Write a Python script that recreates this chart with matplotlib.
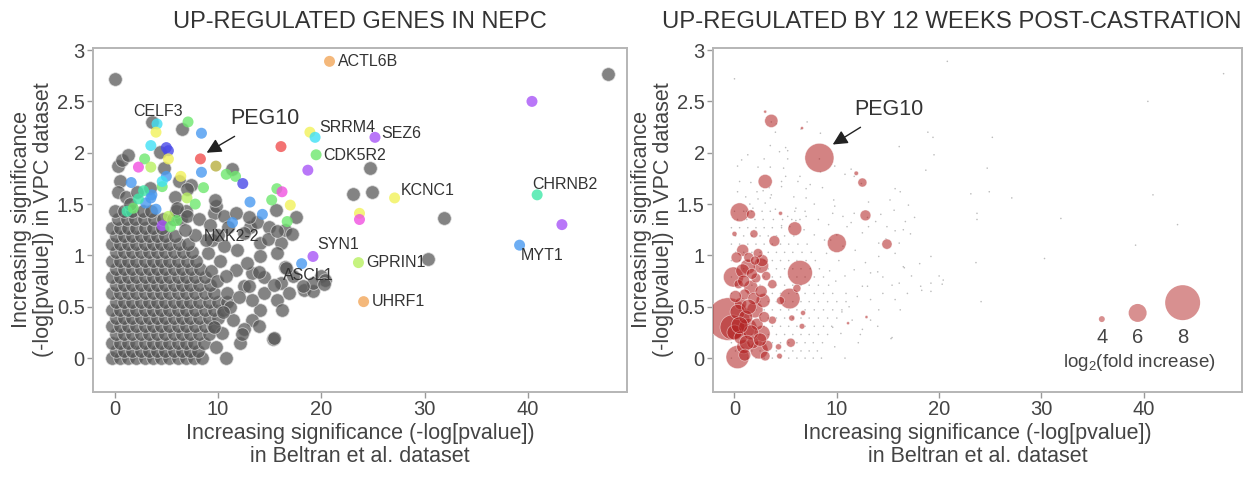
import numpy as np
import matplotlib
matplotlib.use("Agg")
import matplotlib.pyplot as plt
from matplotlib import font_manager

names = {f.name for f in font_manager.fontManager.ttflist}
FONT = 'Liberation Sans Narrow' if 'Liberation Sans Narrow' in names else 'Liberation Sans'
plt.rcParams['font.family'] = [FONT, 'DejaVu Sans']
plt.rcParams['mathtext.fontset'] = 'custom'
plt.rcParams['mathtext.rm'] = FONT
plt.rcParams['mathtext.it'] = FONT

# ---------------- data ----------------
# dense grey cloud, row by row (y value, then x values of that row)
gray_rows_y = [0.00, 0.07, 0.15, 0.23, 0.31, 0.39, 0.47, 0.55, 0.63, 0.71,
               0.79, 0.87, 0.95, 1.03, 1.11, 1.19, 1.27, 1.35, 1.43]
gray_rows_x = [
    [-0.3, 0.5, 1.3, 2.1, 2.9, 3.7, 4.5, 5.3, 6.1, 6.9, 7.7, 8.5],
    [0.1, 0.9, 1.7, 2.5, 3.3, 4.1, 4.9, 5.7, 6.5, 7.3, 8.1],
    [-0.3, 0.5, 1.3, 2.1, 2.9, 3.7, 4.5, 5.3, 6.1, 6.9, 7.7, 8.6],
    [0.1, 0.9, 1.7, 2.5, 3.3, 4.1, 4.9, 5.7, 6.5, 7.3, 8.2, 9.1],
    [-0.3, 0.5, 1.3, 2.1, 2.9, 3.7, 4.5, 5.3, 6.1, 6.9, 7.8, 8.7, 9.5],
    [0.1, 0.9, 1.7, 2.5, 3.3, 4.1, 4.9, 5.7, 6.5, 7.3, 8.2, 9.1, 10.0],
    [-0.3, 0.5, 1.3, 2.1, 2.9, 3.7, 4.5, 5.3, 6.1, 6.9, 7.8, 8.7, 9.6, 10.5],
    [0.1, 0.9, 1.7, 2.5, 3.3, 4.1, 4.9, 5.7, 6.5, 7.3, 8.2, 9.1, 10.0, 10.9],
    [-0.3, 0.5, 1.3, 2.1, 2.9, 3.7, 4.5, 5.3, 6.1, 6.9, 7.8, 8.7, 9.6],
    [0.1, 0.9, 1.7, 2.5, 3.3, 4.1, 4.9, 5.7, 6.5, 7.3, 8.2, 9.2],
    [-0.3, 0.5, 1.3, 2.1, 2.9, 3.7, 4.5, 5.3, 6.1, 6.9, 7.8, 8.7],
    [0.1, 0.9, 1.7, 2.5, 3.3, 4.1, 4.9, 5.7, 6.5, 7.4, 8.3],
    [-0.3, 0.5, 1.3, 2.1, 2.9, 3.7, 4.5, 5.3, 6.1, 7.0, 7.9],
    [0.1, 0.9, 1.7, 2.5, 3.3, 4.1, 4.9, 5.7, 6.6, 7.5],
    [-0.3, 0.5, 1.3, 2.1, 2.9, 3.7, 4.5, 5.3, 6.2, 7.1],
    [0.1, 0.9, 1.7, 2.5, 3.3, 4.1, 4.9, 5.8],
    [-0.3, 0.5, 1.3, 2.1, 2.9, 3.7, 4.6],
    [0.3, 1.2, 2.0, 2.8, 3.8, 4.7, 5.6, 6.4],
    [0.0, 0.9, 1.7, 2.7, 3.5, 5.9, 6.9],
]
# scattered grey genes
gray_x = [0.0, 47.8, 24.7, 23.1, 24.9, 31.9, 30.3,
          0.3, 0.7, 1.3, 0.5, 0.3, 1.1, 1.5, 2.2, 3.4,
          4.8, 4.4, 3.6, 6.5, 6.2, 7.4, 5.8, 6.0, 7.0,
          7.0, 8.2, 9.6, 9.8, 9.7, 10.6, 11.0, 11.7, 11.4,
          13.1, 13.8, 14.9, 15.6, 16.5, 17.6, 17.2, 16.1,
          9.4, 10.6, 12.5, 14.1, 14.1, 15.7, 16.5, 17.3, 16.1,
          18.3, 19.2, 20.0, 20.4, 19.2, 16.9, 15.7, 15.3, 14.1,
          13.3, 12.5, 12.1, 10.8, 14.5, 13.3, 12.5, 11.7, 10.9,
          11.5, 10.4, 9.8, 13.3, 14.5, 11.8, 12.8, 14.0, 15.4,
          16.2, 14.0, 12.3, 15.4, 18.2, 20.3, 16.6, 14.8, 15.7,
          13.0, 9.3, 10.2, 9.9, 10.8, 11.2, 9.6, 10.5, 9.0, 8.8,
          7.8, 6.8, 9.2, 10.0, 12.0, 13.0]
gray_y = [2.72, 2.77, 1.85, 1.60, 1.62, 1.36, 0.97,
          1.87, 1.93, 1.98, 1.72, 1.62, 1.57, 1.50, 1.62, 1.66,
          1.85, 2.01, 2.30, 2.23, 1.72, 1.69, 1.57, 1.46, 1.65,
          1.38, 1.35, 1.41, 1.48, 1.54, 1.38, 1.28, 1.41, 1.84,
          1.28, 1.33, 1.28, 1.44, 1.25, 1.37, 1.21, 1.12,
          1.15, 1.09, 1.22, 1.12, 0.99, 1.02, 0.89, 0.80, 0.73,
          0.66, 0.65, 0.80, 0.76, 0.73, 0.63, 0.57, 0.19, 0.47,
          0.37, 0.28, 0.15, 0.00, 0.63, 0.57, 0.70, 0.86, 0.63,
          0.37, 0.24, 0.11, 0.83, 0.79, 1.05, 0.93, 0.84, 0.71,
          0.47, 0.31, 0.23, 0.20, 0.70, 0.72, 0.88, 1.16, 1.24,
          1.37, 0.85, 0.95, 0.75, 0.80, 0.50, 0.30, 0.45, 1.02, 1.15,
          1.20, 1.25, 1.30, 1.20, 0.60, 0.70]

# highlighted (coloured) genes on the left panel
col_x = [20.8, 40.4, 4.1, 4.0, 7.1, 8.4, 8.3, 8.4, 9.8, 10.8, 11.7, 12.4, 8.6,
         3.5, 5.0, 5.2, 5.2, 2.9, 3.5, 2.3, 5.0, 6.4, 7.0, 7.8, 1.6, 3.6,
         13.1, 14.3, 11.4, 15.2, 15.7, 16.2, 17.0, 16.7, 16.1,
         18.9, 19.4, 19.5, 18.7, 25.2, 27.1, 23.7, 23.7, 40.9, 43.3, 39.2,
         19.2, 18.1, 23.6, 24.1,
         2.8, 3.5, 4.6, 4.6, 4.6, 5.2, 6.0, 1.2, 3.0, 1.8, 2.3, 4.0, 5.4]
col_y = [2.89, 2.50, 2.28, 2.20, 2.30, 2.19, 1.94, 1.81, 1.87, 1.79, 1.77, 1.70, 1.66,
         2.07, 2.05, 2.02, 1.94, 1.94, 1.86, 1.86, 1.77, 1.77, 1.56, 1.50, 1.71, 1.59,
         1.52, 1.40, 1.32, 1.54, 1.65, 1.62, 1.49, 1.33, 2.06,
         2.20, 2.15, 1.98, 1.83, 2.15, 1.56, 1.41, 1.35, 1.59, 1.30, 1.10,
         0.99, 0.92, 0.93, 0.55,
         1.63, 1.56, 1.67, 1.72, 1.29, 1.38, 1.34, 1.43, 1.51, 1.46, 1.55, 1.45, 1.28]
col_group = ['orange', 'purple', 'cyan', 'yellow', 'green', 'blue', 'red', 'blue',
             'olive', 'green', 'green', 'dblue', 'green',
             'cyan', 'dblue', 'dblue', 'yellow', 'green', 'lime', 'pink', 'blue',
             'yellow', 'lime', 'green', 'blue', 'blue',
             'blue', 'blue', 'blue', 'green', 'green', 'pink', 'yellow', 'green', 'red',
             'yellow', 'cyan', 'green', 'purple', 'purple', 'yellow', 'yellow', 'pink',
             'teal', 'purple', 'blue',
             'purple', 'blue', 'lime', 'orange',
             'teal', 'blue', 'green', 'cyan', 'purple', 'lime', 'green', 'teal',
             'blue', 'green', 'teal', 'blue', 'green']

gene_labels = ['ACTL6B', 'CELF3', 'SRRM4', 'SEZ6', 'CDK5R2', 'KCNC1', 'CHRNB2',
               'NXK2-2', 'SYN1', 'MYT1', 'GPRIN1', 'ASCL1', 'UHRF1']
label_x = [21.6, 4.2, 19.8, 25.8, 20.2, 27.7, 40.4, 11.3, 19.6, 41.4, 24.4, 18.7, 24.9]
label_y = [2.89, 2.40, 2.25, 2.19, 1.97, 1.63, 1.69, 1.18, 1.11, 1.00, 0.93, 0.80, 0.55]
label_ha = ['left', 'center', 'left', 'left', 'left', 'left', 'left',
            'center', 'left', 'center', 'left', 'center', 'left']

peg10_xy = (8.3, 1.94)

# right panel: genes up-regulated after castration, size = log2(fold increase)
up_x = [8.3, 3.6, 3.0, 6.6, 3.0, 0.5, 1.6, 4.5, 0.0, 1.9, 5.9, 3.9, 10.0, 14.9,
        12.5, 11.9, 12.8, 6.4, 5.4, 3.7, 2.6, 6.7, 6.6, 5.5, 4.3, 4.4, 11.1, 12.9,
        -0.6, -0.2, 0.0, 0.3, -0.1, 0.8, 1.3, 1.6, 0.6, 2.0, 2.8, 1.3, 2.7, 0.9,
        2.4, 1.4, 2.7, 3.7, 4.5, 5.6, 6.1, 1.0, 2.2, 0.4, 1.8, 3.2, 0.6, 2.1,
        0.3, 1.1, 1.9, 0.8, 2.3, 1.6, 0.2, 2.9, 1.2, 2.6, 0.5, 1.7, 3.1, 0.9,
        2.0, 1.4, 2.5, 0.1, 3.0, 1.0]
up_y = [1.95, 2.31, 2.40, 2.24, 1.72, 1.42, 1.40, 1.41, 1.21, 1.21, 1.26, 1.14, 1.12, 1.11,
        1.71, 1.80, 1.39, 0.83, 0.58, 0.72, 0.90, 0.44, 0.31, 0.15, 0.11, 0.02, 0.34, 0.40,
        0.38, 0.30, 0.25, 0.01, 0.79, 1.05, 0.89, 0.69, 0.53, 0.47, 0.56, 0.30, 0.24, 0.11,
        0.08, 0.98, 0.95, 0.37, 0.56, 0.39, 0.68, 0.62, 0.33, 0.72, 0.15, 0.12, 0.20, 0.78,
        0.45, 0.40, 0.58, 0.85, 1.02, 0.25, 0.98, 0.40, 0.15, 0.65, 0.32, 0.82, 0.80, 0.75,
        0.95, 0.50, 0.18, 0.60, 0.02, 0.03]
up_log2fc = [7.3, 5.2, 3.25, 3.25, 5.35, 6.1, 4.5, 3.5, 3.75, 4.33, 5.3, 4.8, 6.1, 4.7,
             4.5, 3.6, 4.8, 6.8, 6.3, 4.5, 5.5, 3.75, 3.9, 4.5, 4.0, 3.9, 3.25, 3.25,
             8.9, 6.8, 5.5, 6.6, 6.24, 5.0, 5.5, 5.33, 5.0, 5.67, 5.33, 6.0, 5.67, 5.33,
             6.0, 4.67, 5.0, 4.33, 4.33, 4.0, 4.33, 4.8, 5.0, 4.5, 5.0, 4.8, 5.2, 4.6,
             5.5, 5.3, 5.0, 5.3, 4.6, 5.5, 4.8, 4.8, 5.5, 5.0, 5.8, 4.8, 4.5, 5.0,
             4.5, 5.5, 5.2, 5.0, 4.6, 5.0]

legend_fc = [4, 6, 8]

x_ticks = [0, 10, 20, 30, 40]
y_ticks = [0, 0.5, 1, 1.5, 2, 2.5, 3]
y_ticklabels = ['0', '0.5', '1', '1.5', '2', '2.5', '3']

# ---------------- styling ----------------
PALETTE = {'orange': '#f2a65a', 'purple': '#a855f7', 'cyan': '#40e0f5',
           'yellow': '#f2f25a', 'green': '#6ee86e', 'lime': '#b8f060',
           'blue': '#4a9af0', 'dblue': '#4a4ae8', 'red': '#f05050',
           'pink': '#f050e0', 'teal': '#40e8a8', 'olive': '#b8b040'}
TXT = '#333333'
SPINE = '#b5b5b5'


def fc_to_px(fc):
    return np.interp(fc, [3, 4, 6, 8, 10], [2, 6, 18, 35, 52])


def px_to_s(d):
    return (np.asarray(d) * 72 / 100.0) ** 2


gx = np.concatenate([np.array(xs) for xs in gray_rows_x] + [np.array(gray_x)])
gy = np.concatenate([np.full(len(xs), yv) for yv, xs in zip(gray_rows_y, gray_rows_x)]
                    + [np.array(gray_y)])

fig = plt.figure(figsize=(12.46, 4.79), dpi=100)
axL = fig.add_axes([93 / 1246, 1 - 392 / 479, 534 / 1246, 344 / 479])
axR = fig.add_axes([713 / 1246, 1 - 392 / 479, 529 / 1246, 344 / 479])


def style(ax):
    ax.set_xlim(-2.1, 49.6)
    ax.set_ylim(-0.33, 3.02)
    ax.set_xticks(x_ticks)
    ax.set_yticks(y_ticks)
    ax.set_yticklabels(y_ticklabels)
    for sp in ax.spines.values():
        sp.set_color(SPINE)
        sp.set_linewidth(1.4)
    ax.tick_params(axis='both', colors='#999999', length=4, width=1,
                   labelsize=14.5, labelcolor='#444444', pad=2)
    ax.set_xlabel('Increasing significance (-log[pvalue])\nin Beltran et al. dataset',
                  fontsize=15.5, color='#444444', labelpad=3, linespacing=1.1)
    ax.set_ylabel('Increasing significance\n(-log[pvalue]) in VPC dataset',
                  fontsize=15.5, color='#444444', labelpad=2, linespacing=1.05)


# ---- left panel ----
style(axL)
axL.scatter(gx, gy, s=px_to_s(13.5), c='#585858', alpha=0.74,
            edgecolors=(0.88, 0.88, 0.88, 0.6), linewidths=0.6, zorder=2)
axL.scatter(col_x, col_y, s=px_to_s(11), c=[PALETTE[g] for g in col_group],
            alpha=0.8, edgecolors='none', zorder=3)
for t, x, y, ha in zip(gene_labels, label_x, label_y, label_ha):
    axL.text(x, y, t, ha=ha, va='center', fontsize=11.5, color=TXT, zorder=4)
axL.annotate('PEG10', xy=(peg10_xy[0] + 0.6, peg10_xy[1] + 0.06),
             xytext=(14.5, 2.33), ha='center', va='center', fontsize=15.5, color=TXT,
             arrowprops=dict(arrowstyle='-|>', color='#222222', lw=1.0,
                             mutation_scale=22, shrinkA=6, shrinkB=0), zorder=5)
fig.text(360 / 1246, 1 - 22 / 479, 'UP-REGULATED GENES IN NEPC', ha='center',
         va='center', fontsize=17, color='#333333')

# ---- right panel ----
style(axR)
all_x = np.concatenate([gx, np.array(col_x)])
all_y = np.concatenate([gy, np.array(col_y)])
axR.scatter(all_x, all_y, s=1.3, c='#a0a0a0', alpha=0.7, edgecolors='none', zorder=2)
axR.scatter(up_x, up_y, s=px_to_s(fc_to_px(np.array(up_log2fc))), c='#b22222',
            alpha=0.56, edgecolors=(1, 1, 1, 0.3), linewidths=0.5, zorder=3)
axR.annotate('PEG10', xy=(9.6, 2.08), xytext=(15.1, 2.42), ha='center', va='center',
             fontsize=15.5, color=TXT,
             arrowprops=dict(arrowstyle='-|>', color='#222222', lw=1.0,
                             mutation_scale=22, shrinkA=6, shrinkB=0), zorder=5)
leg_x = [35.9, 39.4, 43.8]
leg_y = [0.38, 0.44, 0.54]
axR.scatter(leg_x, leg_y, s=px_to_s(fc_to_px(np.array(legend_fc))), c='#b22222',
            alpha=0.5, edgecolors='none', zorder=3)
for x, v in zip(leg_x, legend_fc):
    axR.text(x, 0.2, str(v), ha='center', va='center', fontsize=14.5, color='#444444')
axR.text(39.6, -0.04, 'log$_2$(fold increase)', ha='center', va='center',
         fontsize=13.5, color='#444444')
fig.text(1242 / 1246, 1 - 22 / 479, 'UP-REGULATED BY 12 WEEKS POST-CASTRATION',
         ha='right', va='center', fontsize=17.2, color='#333333')

fig.savefig('out.png', dpi=100)
